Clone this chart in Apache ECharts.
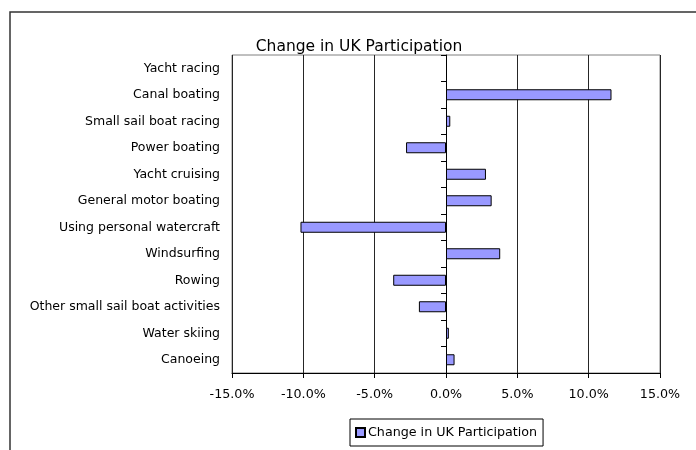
<!DOCTYPE html>
<html><head><meta charset="utf-8">
<script src="https://cdn.jsdelivr.net/npm/echarts@6/dist/echarts.min.js"></script>
<style>html,body{margin:0;padding:0;background:#fff}#c{width:696px;height:450px}</style>
</head><body><div id="c"></div>
<script>
const chartTitle = 'Change in UK Participation';
const seriesName = 'Change in UK Participation';
const categories = ['Yacht racing','Canal boating','Small sail boat racing','Power boating','Yacht cruising','General motor boating','Using personal watercraft','Windsurfing','Rowing','Other small sail boat activities','Water skiing','Canoeing'];
const values = [null, 11.6, 0.3, -2.8, 2.8, 3.2, -10.2, 3.8, -3.7, -1.9, 0.2, 0.6];
const xMin = -15, xMax = 15, xStep = 5;

const FONT = 'DejaVu Sans';
const chart = echarts.init(document.getElementById('c'), null, {renderer:'canvas'});
chart.setOption({
  animation:false,
  textStyle:{fontFamily:FONT, color:'#000'},
  title:{text:chartTitle, left:354, top:34, textAlign:'center',
    textStyle:{fontFamily:FONT, fontSize:15.5, fontWeight:'normal', color:'#000'}},
  graphic:[{type:'rect', shape:{x:10, y:12, width:720, height:470},
    style:{fill:'none', stroke:'#333', lineWidth:1.5}, silent:true}],
  grid:{left:232, top:55, width:428, height:318, show:true, borderColor:'#808080', borderWidth:1, containLabel:false},
  legend:{data:[seriesName], left:350, top:419, itemWidth:9, itemHeight:9, itemGap:4,
    borderColor:'#000', borderWidth:1, padding:[7,6,7,5], icon:'rect',
    textStyle:{fontFamily:FONT, fontSize:12.7, color:'#000', padding:[0,0,0,-2]}},
  xAxis:{type:'value', min:xMin, max:xMax, interval:xStep,
    axisLine:{show:true, onZero:false, lineStyle:{color:'#000', width:1}},
    axisTick:{show:true, length:5, lineStyle:{color:'#000'}},
    axisLabel:{formatter:v=>v.toFixed(1)+'%', fontFamily:FONT, fontSize:12.7, color:'#000', margin:15},
    splitLine:{show:true, lineStyle:{color:'#262626', width:1}}},
  yAxis:[
    {type:'category', data:categories, inverse:true, position:'left',
     axisLine:{show:false}, axisTick:{show:false},
     axisLabel:{fontFamily:FONT, fontSize:12.5, color:'#000', margin:12}},
    {type:'category', data:categories, inverse:true, position:'left', offset:-214,
     axisLine:{show:true, onZero:false, lineStyle:{color:'#000', width:1}},
     axisTick:{show:true, length:5, inside:false, lineStyle:{color:'#000'}},
     axisLabel:{show:false}, splitLine:{show:false}}
  ],
  series:[{name:seriesName, type:'bar', data:values, yAxisIndex:0, barWidth:11,
    itemStyle:{color:'#9999FF', borderColor:'#000', borderWidth:1}}]
});
</script></body></html>
